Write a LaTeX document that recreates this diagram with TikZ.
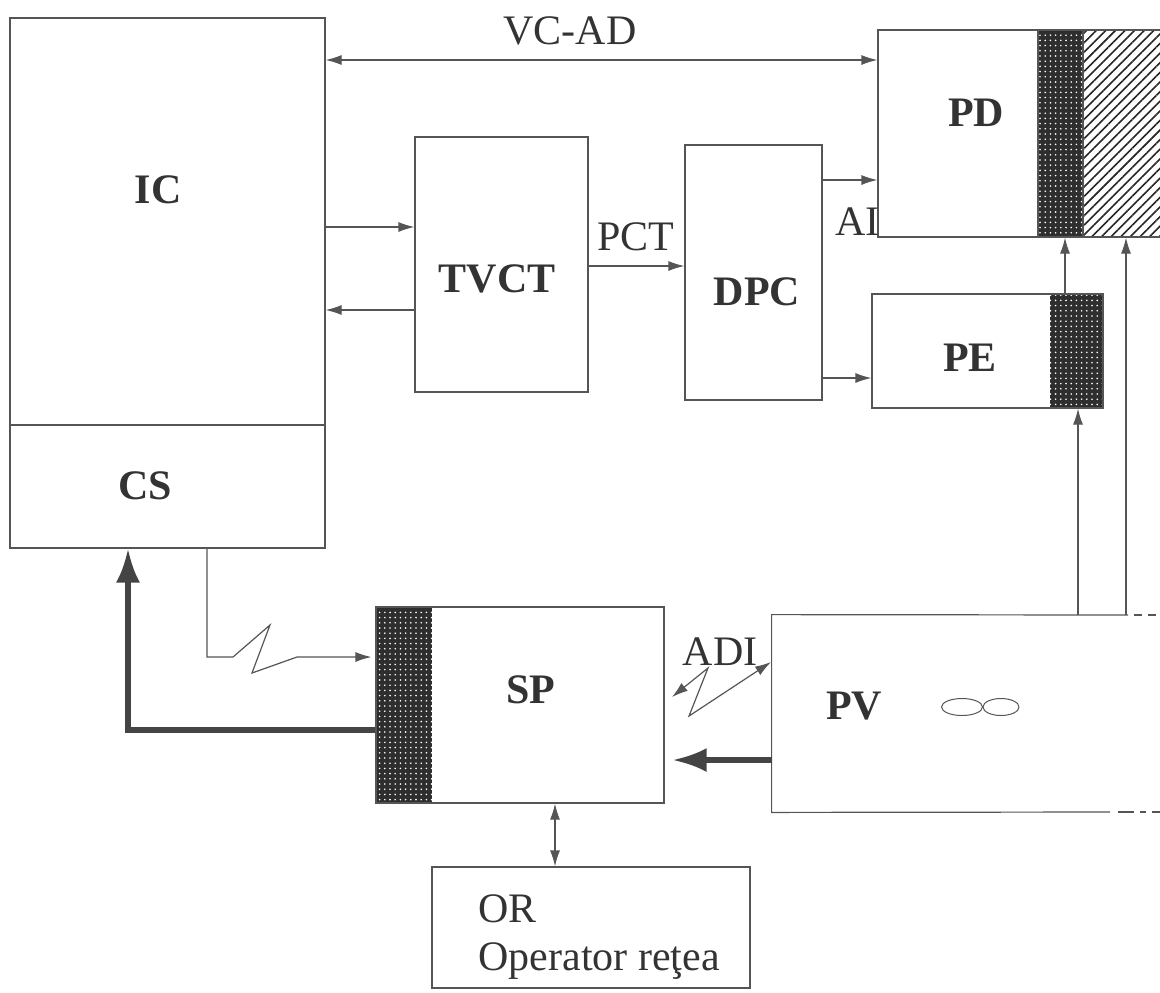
\documentclass[tikz,border=0pt]{standalone}
\usepackage{fontspec}
\setmainfont{Liberation Serif}
\usetikzlibrary{patterns,patterns.meta,fit,arrows.meta,shapes.geometric}
\definecolor{ln}{HTML}{555555}
\definecolor{thk}{HTML}{444444}
\definecolor{txt}{HTML}{333333}
\definecolor{dk}{HTML}{2E2E2E}
\begin{document}
\begin{tikzpicture}[x=0.5pt,y=-0.5pt,
  box/.style={draw=ln, line width=0.6pt, inner sep=0pt},
  arr/.style={draw=ln, line width=0.6pt, -{Latex[length=8pt,width=5pt]}},
  darr/.style={draw=ln, line width=0.6pt, {Latex[length=8pt,width=5pt]}-{Latex[length=8pt,width=5pt]}},
  bigarr/.style={draw=thk, line width=2.6pt, -{Latex[length=17pt,width=12pt]}},
  lbl/.style={font=\fontsize{21}{24}\selectfont\bfseries, text=txt, inner sep=0pt},
  tl/.style={font=\fontsize{21}{24}\selectfont, text=txt, inner sep=0pt},
  dense/.style={fill=dk},
  dots/.style={pattern={Dots[distance=2.6pt,radius=0.45pt]}, pattern color=white},
  hatch/.style={pattern={Lines[angle=45,distance=3.4pt,line width=0.8pt]}, pattern color=black!85}]
\useasboundingbox (0,0) rectangle (1160,992);
\clip (0,0) rectangle (1160,992);

% IC / CS
\node[box, fit={(10,18) (325,548)}] (ic) {};
\draw[ln, line width=0.6pt] (ic.west |- 0,425) -- (ic.east |- 0,425);
\node[lbl] (iclbl) at (158,190) {IC};
\node[lbl] (cslbl) at (145,486) {CS};

% TVCT
\node[box, fit={(415,137) (588,392)}] (tvct) {};
\node[lbl] (tvctlbl) at (497,279) {TVCT};

% DPC
\node[box, fit={(685,145) (822,400)}] (dpc) {};
\node[lbl] (dpclbl) at (757,292) {DPC};

% PD
\fill[dense] (1038,30) rectangle (1083,237);
\fill[dots] (1038,30) rectangle (1083,237);
\fill[hatch] (1083,30) rectangle (1185,237);
\node[box, fit={(878,30) (1185,237)}] (pd) {};
\draw[ln, line width=0.6pt] (1038,30) -- (1038,237) (1083,30) -- (1083,237);
\node[lbl] (pdlbl) at (976,113) {PD};

% PE
\fill[dense] (1050,294) rectangle (1103,408);
\fill[dots] (1050,294) rectangle (1103,408);
\node[box, fit={(872,294) (1103,408)}] (pe) {};
\node[lbl] (pelbl) at (970,358) {PE};

% SP
\fill[dense] (376,607) rectangle (432,803);
\fill[dots] (376,607) rectangle (432,803);
\node[box, fit={(376,607) (664,803)}] (sp) {};
\node[lbl] (splbl) at (531,690) {SP};

% PV (open to the right)
\node[inner sep=0pt, fit={(772,615) (1160,812)}] (pv) {};
\draw[ln, line width=0.6pt] (1128,615) -- (pv.north west) -- (pv.south west) -- (1110,812);
\draw[ln, line width=0.6pt, dash pattern=on 4pt off 3pt] (1134,615) -- (1160,615);
\draw[ln, line width=0.6pt, dash pattern=on 8pt off 3pt on 3pt off 3pt] (1118,812) -- (1160,812);
\node[lbl] (pvlbl) at (854,706) {PV};
\node[draw=ln, line width=0.5pt, ellipse, inner sep=0pt, minimum width=20.5pt, minimum height=8.5pt] (e1) at (962,707) {};
\node[draw=ln, line width=0.5pt, ellipse, inner sep=0pt, minimum width=18pt, minimum height=8.5pt] (e2) at (1001,707) {};

% OR
\node[box, fit={(432,867) (750,988)}] (or) {};
\node[tl, anchor=base west] (orlbl) at (478,922) {OR};
\node[tl, anchor=base west] (oplbl) at (478,970) {Operator reţea};

% connectors
\draw[darr] (ic.east |- 0,60) -- (pd.west |- 0,60);
\node[tl] (vcad) at (570,31) {VC-AD};
\draw[arr] (ic.east |- 0,227) -- (tvct.west |- 0,227);
\draw[arr] (tvct.west |- 0,310) -- (ic.east |- 0,310);
\draw[arr] (tvct.east |- 0,266) -- (dpc.west |- 0,266);
\node[tl] (pct) at (636,237) {PCT};
\draw[arr] (dpc.east |- 0,180) -- (pd.west |- 0,180);
\node[tl, anchor=east] (ai) at (880,222) {AI};
\draw[arr] (dpc.east |- 0,378) -- (pe.west |- 0,378);

\draw[arr] (pe.north -| 1065,0) -- (pd.south -| 1065,0);
\draw[arr] (pv.north -| 1078,0) -- (pe.south -| 1078,0);
\draw[arr] (pv.north -| 1126,0) -- (pd.south -| 1126,0);

% CS -> SP radio link
\coordinate (z1) at (207,657);
\coordinate (z2) at (233,657);
\coordinate (z3) at (270,625);
\coordinate (z4) at (252,673);
\coordinate (z5) at (297,657);
\draw[arr, shorten >=2pt] (ic.south -| 207,0) -- (z1) -- (z2) -- (z3) -- (z4) -- (z5) -- (sp.west |- z5);

% SP -> CS thick
\coordinate (bend) at (128,730);
\draw[bigarr] (sp.west |- bend) -- (bend) -- (ic.south -| bend);

% PV -> SP thick
\draw[bigarr, shorten >=4pt] (pv.west |- 0,760) -- (sp.east |- 0,760);

% ADI link
\coordinate (a1) at (672,697);
\coordinate (a2) at (708,668);
\coordinate (a3) at (689,716);
\coordinate (a4) at (771,662);
\draw[darr] (a1) -- (a2) -- (a3) -- (a4);
\node[tl] (adi) at (720,652) {ADI};

% SP <-> OR
\draw[darr] (sp.south -| 555,0) -- (or.north -| 555,0);
\end{tikzpicture}
\end{document}
